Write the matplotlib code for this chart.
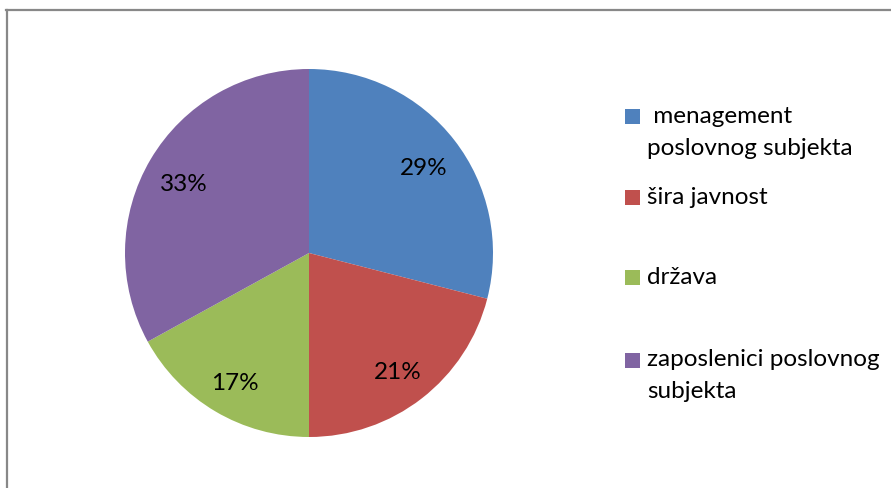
import matplotlib
matplotlib.use('Agg')
import matplotlib.pyplot as plt
from matplotlib.patches import Rectangle
from matplotlib.lines import Line2D

plt.rcParams['font.family'] = ['Lato', 'DejaVu Sans']

labels = [' menagement\nposlovnog subjekta', 'šira javnost', 'država',
          'zaposlenici poslovnog\nsubjekta']
shares = [29, 21, 17, 33]
colors = ['#4F81BD', '#C0504D', '#9BBB59', '#8064A2']

W, H = 891, 488
fig = plt.figure(figsize=(W / 100, H / 100), dpi=100)

# pie centre and radius in pixels
cx, cy, r = 309, 253, 184
ax = fig.add_axes([(cx - r) / W, (H - cy - r) / H, 2 * r / W, 2 * r / H])
wedges, texts, autotexts = ax.pie(shares, colors=colors, startangle=90,
                                  counterclock=False, autopct='%d%%',
                                  pctdistance=0.79,
                                  textprops={'fontsize': 17.5, 'color': 'black'})
for t in autotexts:
    t.set_va('center_baseline')
    x, y = t.get_position()
    t.set_position((x, y - 3 / r))
ax.set_xlim(-1, 1)
ax.set_ylim(-1, 1)
ax.set_aspect('equal')
ax.axis('off')

# legend, drawn by hand
item_y = [116.5, 197.5, 277.5, 360]
line_step = 32
for lab, col, y in zip(labels, colors, item_y):
    fig.patches.append(Rectangle((625 / W, 1 - (y + 7.5) / H), 15 / W, 15 / H,
                                 transform=fig.transFigure, color=col,
                                 linewidth=0))
    for i, line in enumerate(lab.split('\n')):
        fig.text(647 / W, 1 - (y + i * line_step) / H, line, fontsize=17.5,
                 va='center', ha='left', color='black')

# chart frame (left and top edges visible)
fig.lines.append(Line2D([7 / W, 7 / W], [0, 1 - 10 / H], transform=fig.transFigure,
                        color='#888888', linewidth=1.6))
fig.lines.append(Line2D([6 / W, 1], [1 - 10 / H, 1 - 10 / H], transform=fig.transFigure,
                        color='#888888', linewidth=1.6))

fig.savefig('out.png', dpi=100)
